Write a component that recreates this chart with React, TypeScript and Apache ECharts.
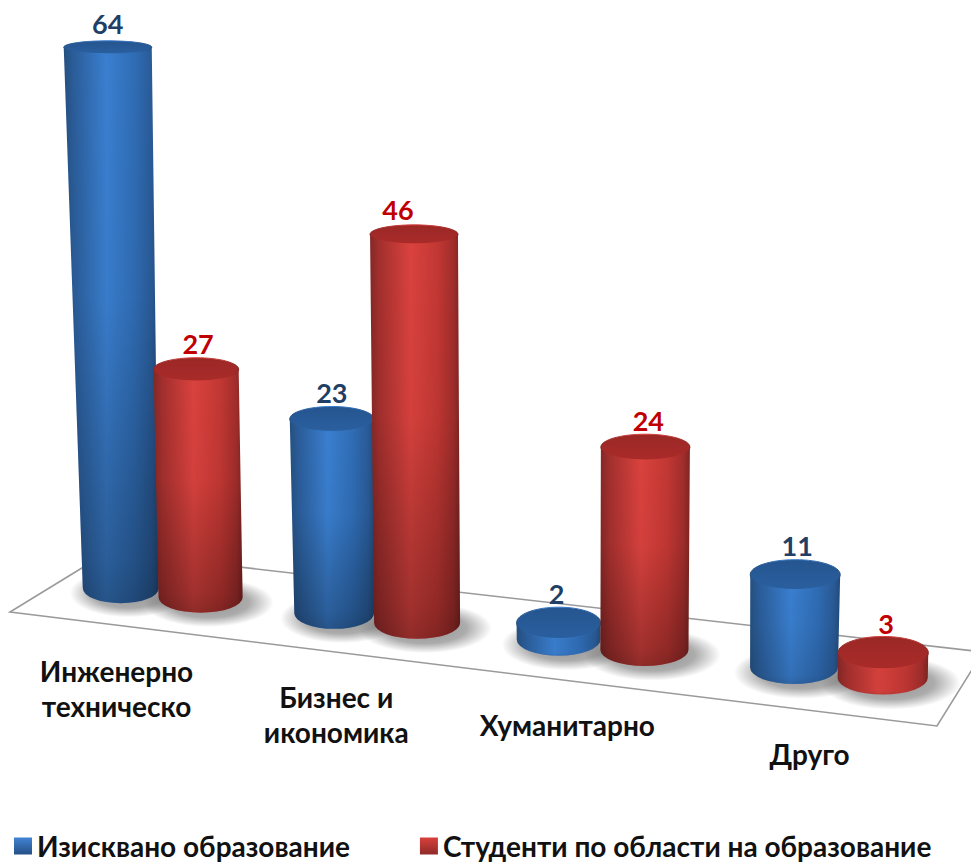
import React, { useEffect, useRef } from "react";
import * as echarts from "echarts";

const categories = ["Инженерно\nтехническо", "Бизнес и\nикономика", "Хуманитарно", "Друго"];
const requiredName = "Изисквано образование";
const studentsName = "Студенти по области на образование";
const requiredValues = [64, 23, 2, 11];
const studentsValues = [27, 46, 24, 3];

const FONT = "Lato, 'Open Sans', sans-serif";
const OFFSET = 0.19;
const screenX = (t: number) => 160.5 + 210 * t + 5.5 * t * t;
const floorY = (x: number) => 588 + 0.118 * (x - 120);
const ryAt = (y: number) => 6.5 + 0.016 * (y - 48);

// Small per-label layout nudges (pixels), kept apart from the data.
const requiredLabelNudge = [[0, -3], [0, 0], [-2, 0], [2, 0]];
const studentsLabelNudge = [[2, 0], [-16, -1], [3, 0], [3, 1]];

const PAL = {
  blue: {
    side: [
      [0, "#25507f"], [0.1, "#2a5c98"], [0.45, "#3a7fd0"], [0.75, "#2f6cb4"], [0.93, "#295a96"], [1, "#234a7a"],
    ],
    cap: "#2a5f9f", capDark: "#25558f", label: "#1f3f66",
    legend: ["#4184d4", "#254f86"],
  },
  red: {
    side: [
      [0, "#832826"], [0.1, "#a22f2d"], [0.45, "#da423e"], [0.75, "#c23733"], [0.93, "#a02d2b"], [1, "#7d2523"],
    ],
    cap: "#a92b29", capDark: "#9b2826", label: "#c00000",
    legend: ["#d8403c", "#8e2a28"],
  },
};

function gradH(stops: any[]) {
  return new echarts.graphic.LinearGradient(0, 0, 1, 0, stops.map(([offset, color]) => ({ offset, color })));
}
function gradV(stops: any[]) {
  return new echarts.graphic.LinearGradient(0, 0, 0, 1, stops.map(([offset, color]) => ({ offset, color })));
}

function geometry(api: any, isBlue: boolean) {
  const i = api.value(0);
  const v = api.value(1);
  const band = api.size([1, 0])[0];
  const u = api.coord([i, 0]);
  const top = api.coord([i, v]);
  const h = u[1] - top[1];
  const delta = isBlue ? -OFFSET : OFFSET - 0.005 * i;
  const xB = screenX(u[0] / band - 0.5 + delta);
  const yB = floorY(xB);
  const yT = yB - h;
  const xT = xB + (xB - 560) * h * 5.5e-5;
  const wB = isBlue ? 76 + (xB - 120) * 0.0176 : 84 + (xB - 200) * 0.009;
  const wT = wB + (isBlue ? (12 * h) / 540 : (2 * h) / 393);
  return { i, h, xB, yB, yT, xT, rB: wB / 2, rT: wT / 2, ryB: ryAt(yB), ryT: ryAt(yT) };
}

const makeBar = (isBlue: boolean) => (params: any, api: any) => {
  const g = geometry(api, isBlue);
  const p = isBlue ? PAL.blue : PAL.red;
  const left = Math.min(g.xT - g.rT, g.xB - g.rB);
  const right = Math.max(g.xT + g.rT, g.xB + g.rB);
  const d =
    `M${g.xT - g.rT} ${g.yT} L${g.xB - g.rB} ${g.yB} ` +
    `A${g.rB} ${g.ryB} 0 0 0 ${g.xB + g.rB} ${g.yB} ` +
    `L${g.xT + g.rT} ${g.yT} Z`;
  const boxTop = g.yT;
  const boxH = g.yB + g.ryB - g.yT;
  const shade = 0.26 * Math.min(g.h / 200, 1);
  const nudge = (isBlue ? requiredLabelNudge : studentsLabelNudge)[g.i];
  const labelY = g.yT - g.ryT - 14 + nudge[1];
  return {
    type: "group",
    children: [
      {
        type: "path",
        shape: { pathData: d, x: left, y: boxTop, width: right - left, height: boxH },
        layout: "cover",
        style: { fill: gradH(p.side) },
      },
      {
        type: "path",
        shape: { pathData: d, x: left, y: boxTop, width: right - left, height: boxH },
        layout: "cover",
        style: {
          fill: gradV([
            [0, "rgba(0,0,0,0)"],
            [0.45, "rgba(0,0,0,0.03)"],
            [0.92, `rgba(0,0,0,${shade})`],
            [1, `rgba(0,0,0,${shade + 0.08})`],
          ]),
        },
      },
      {
        type: "ellipse",
        shape: { cx: g.xT, cy: g.yT, rx: g.rT, ry: g.ryT },
        style: { fill: gradV([[0, p.capDark], [1, p.cap]]), stroke: gradH(p.side), lineWidth: 1 },
      },
      {
        type: "text",
        style: {
          text: String(api.value(1)),
          x: g.xT + nudge[0],
          y: labelY,
          align: "center",
          verticalAlign: "middle",
          textAlign: "center",
          textVerticalAlign: "middle",
          fontFamily: FONT,
          fontWeight: "bold",
          fontSize: 27,
          fill: p.label,
        },
      },
    ],
  };
};

const makeShadow = (isBlue: boolean) => (params: any, api: any) => {
  const g = geometry(api, isBlue);
  return {
    type: "ellipse",
    shape: { cx: g.xB + 8, cy: g.yB + 5, rx: g.rB * 1.55, ry: g.ryB * 1.6 },
    style: {
      fill: new echarts.graphic.RadialGradient(0.5, 0.5, 0.5, [
        { offset: 0, color: "rgba(70,70,70,0.6)" },
        { offset: 0.62, color: "rgba(70,70,70,0.45)" },
        { offset: 1, color: "rgba(70,70,70,0)" },
      ]),
    },
  };
};

const renderCategory = (params: any, api: any) => {
  const i = api.value(0);
  const band = api.size([1, 0])[0];
  const u = api.coord([i, 0]);
  const c = screenX(u[0] / band - 0.5);
  const x = c - 44 + 0.02 * (c - 160);
  const y = 653 + 0.12 * (x - 116);
  return {
    type: "text",
    style: {
      text: categories[i],
      x,
      y,
      align: "center",
      verticalAlign: "top",
      textAlign: "center",
      textVerticalAlign: "top",
      fontFamily: FONT,
      fontWeight: "bold",
      fontSize: 28,
      lineHeight: 35,
      fill: "#111111",
    },
  };
};

export default function App() {
  const ref = useRef<HTMLDivElement>(null);
  useEffect(() => {
    const chart = echarts.init(ref.current!, null, { renderer: "svg" });
    const toRows = (arr: number[]) => arr.map((v, i) => [i, v]);
    chart.setOption({
      animation: false,
      backgroundColor: "#ffffff",
      grid: { left: 0, right: 0, top: 0, height: 845 },
      xAxis: { type: "category", data: categories, show: false },
      yAxis: { type: "value", min: 0, max: 100, show: false },
      legend: {
        show: true,
        left: 14,
        top: 832,
        padding: 0,
        itemWidth: 18,
        itemHeight: 17,
        itemGap: 70,
        icon: "rect",
        data: [requiredName, studentsName],
        textStyle: { fontFamily: FONT, fontWeight: "bold", fontSize: 28, lineHeight: 28, color: "#111111" },
      },
      graphic: [
        {
          type: "polygon",
          z: 0,
          shape: { points: [[108, 552], [10, 612], [937, 726], [983, 652]] },
          style: { fill: "#ffffff", stroke: "#9a9a9a", lineWidth: 1.6 },
        },
      ],
      series: [
        { type: "custom", name: "shadow-a", z: 2, silent: true, renderItem: makeShadow(true), data: toRows(requiredValues) },
        { type: "custom", name: "shadow-b", z: 2, silent: true, renderItem: makeShadow(false), data: toRows(studentsValues) },
        {
          type: "custom",
          name: requiredName,
          z: 3,
          renderItem: makeBar(true),
          data: toRows(requiredValues),
          itemStyle: { color: gradV([[0, PAL.blue.legend[0]], [1, PAL.blue.legend[1]]]) },
        },
        {
          type: "custom",
          name: studentsName,
          z: 4,
          renderItem: makeBar(false),
          data: toRows(studentsValues),
          itemStyle: { color: gradV([[0, PAL.red.legend[0]], [1, PAL.red.legend[1]]]) },
        },
        { type: "custom", name: "categories", z: 5, silent: true, renderItem: renderCategory, data: categories.map((_, i) => [i, 0]) },
      ],
    });
    return () => chart.dispose();
  }, []);
  return <div ref={ref} style={{ position: "absolute", left: 0, top: 0, width: 971, height: 862 }} />;
}
